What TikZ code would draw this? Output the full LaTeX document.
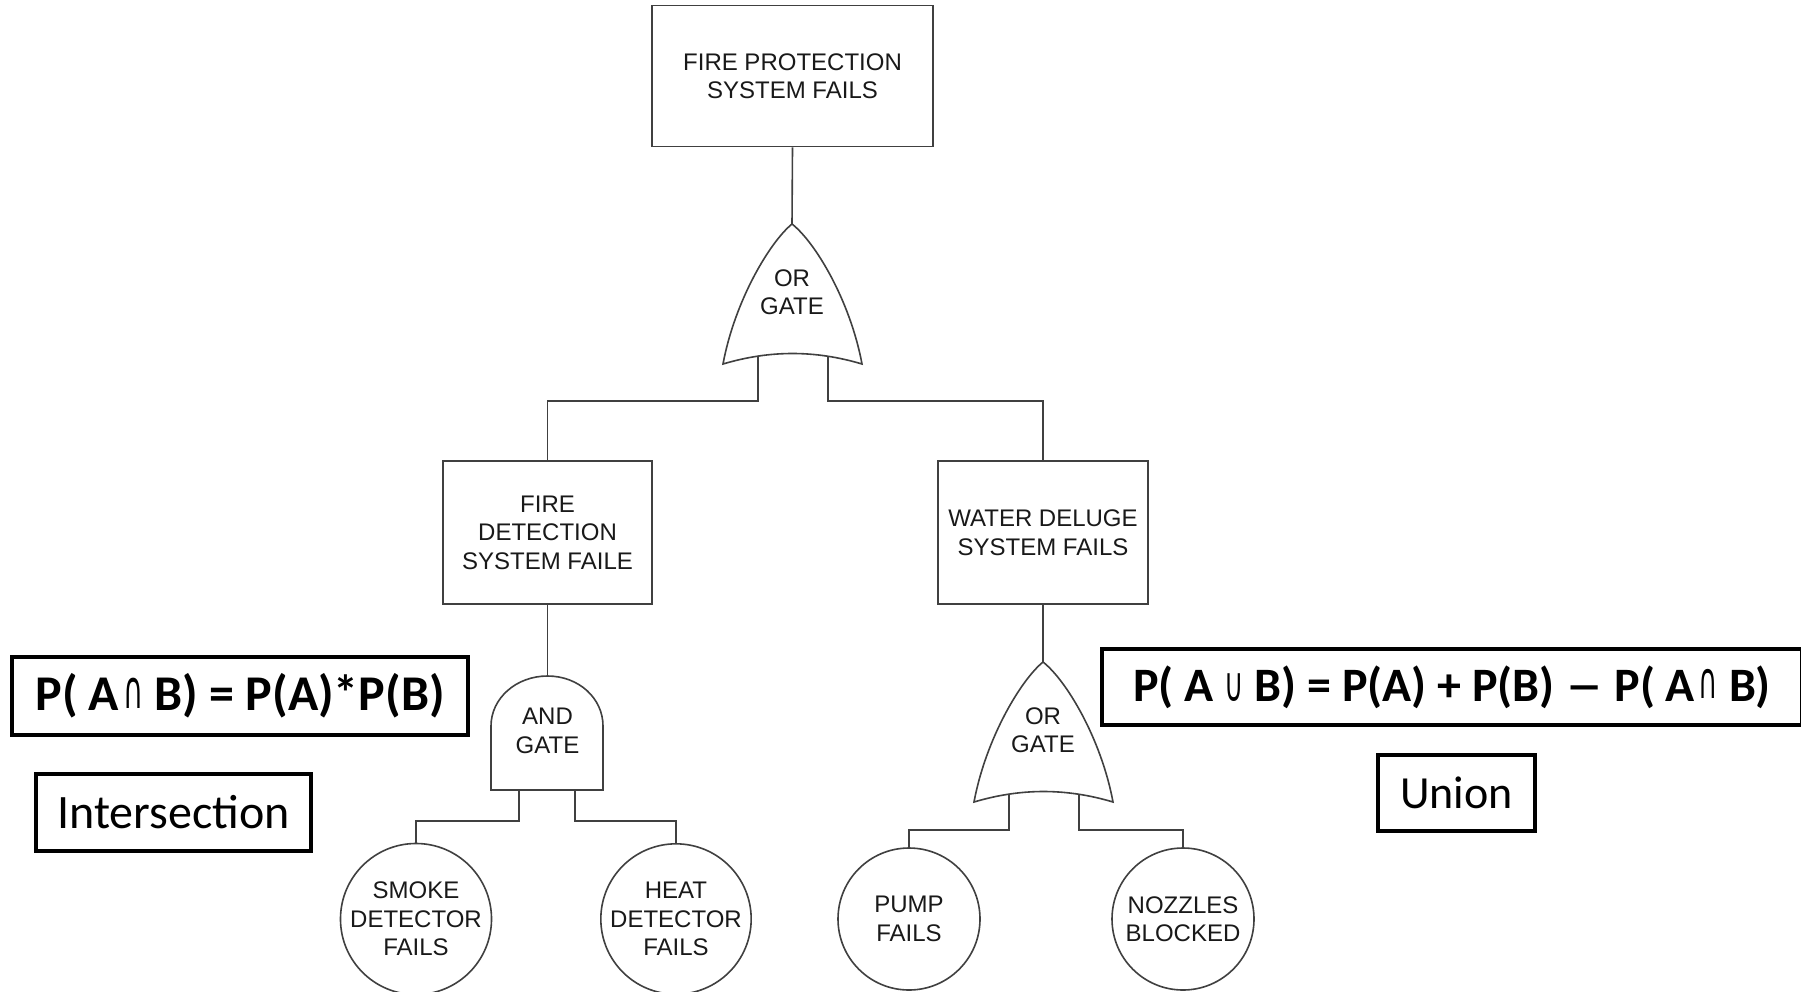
\documentclass[tikz,border=0pt]{standalone}
\usepackage{fontspec}
\setmainfont{Liberation Sans}
\newfontfamily\calfont{Carlito}
\newfontfamily\symfont{DejaVu Sans}
% set-operation signs, drawn thin and narrow beside the bold Carlito letters
\newcommand\capsym{\kern0.08em\raisebox{0.05em}{\scalebox{0.55}[1.05]{\symfont\mdseries ∩}}}
\newcommand\cupsym{\scalebox{0.55}[1.0]{\symfont\mdseries ∪}}
\newcommand\longdash{\scalebox{1.6}[1]{–}}
\tikzset{
  wire/.style={draw=black!75, line width=1.6pt},
  treetext/.style={align=center, text=black!90, font=\fontsize{24}{28.5}\selectfont},
  event/.style={wire, treetext, rectangle, inner sep=0pt},
  basic/.style={wire, treetext, circle, minimum size=142pt, inner sep=0pt},
  formula/.style={draw=black, line width=4pt, rectangle, inner sep=0pt, text=black},
}
\begin{document}
\begin{tikzpicture}[x=1pt, y=-1pt]
\useasboundingbox (0,0) rectangle (1801,991);
\fill[white] (0,0) rectangle (1801,991);

% top event and intermediate events
\node[event, minimum width=281pt, minimum height=141pt] (top) at (792.5,76)
  {FIRE PROTECTION\\SYSTEM FAILS};
\node[event, minimum width=209pt, minimum height=143pt] (fd) at (547.5,532.5)
  {FIRE\\DETECTION\\SYSTEM FAILE};
\node[event, minimum width=210pt, minimum height=143pt] (wd) at (1043,532.5)
  {WATER DELUGE\\SYSTEM FAILS};

% top OR gate
\draw[wire, fill=white] (792,224) .. controls (770,242) and (735,300) .. (723,364)
  .. controls (770,350) and (815,350) .. (862,364)
  .. controls (850,300) and (815,242) .. (792,224) -- cycle;
\node[treetext] (or1) at (792,292) {OR\\GATE};
\coordinate (or1a) at (792,224);
\coordinate (or1l) at (758,356);
\coordinate (or1r) at (828,356);

% AND gate under fire detection
\draw[wire, fill=white] (491,790) -- (491,726)
  .. controls (491,698.4) and (516.1,676) .. (547.5,676)
  .. controls (578.9,676) and (603,698.4) .. (603,726) -- (603,790) -- cycle;
\node[treetext] (and1) at (547.5,731) {AND\\GATE};
\coordinate (and1a) at (547.5,676);
\coordinate (and1l) at (519,790);
\coordinate (and1r) at (575,790);

% OR gate under water deluge
\begin{scope}[shift={(251,438)}]
\draw[wire, fill=white] (792,224) .. controls (770,242) and (735,300) .. (723,364)
  .. controls (770,350) and (815,350) .. (862,364)
  .. controls (850,300) and (815,242) .. (792,224) -- cycle;
\node[treetext] (or2) at (792,292) {OR\\GATE};
\coordinate (or2a) at (792,224);
\coordinate (or2l) at (758,356);
\coordinate (or2r) at (828,356);
\end{scope}

% basic events
\node[basic] (smoke) at (416,919) {SMOKE\\DETECTOR\\FAILS};
\node[basic] (heat) at (676,919) {HEAT\\DETECTOR\\FAILS};
\node[basic] (pump) at (909,919) {PUMP\\FAILS};
\node[basic] (nozzles) at (1183,919) {NOZZLES\\BLOCKED};

% connectors
\draw[wire] (top.south) -- (or1a);
\draw[wire] (or1l) -- ++(0,45) -| (fd.north);
\draw[wire] (or1r) -- ++(0,45) -| (wd.north);
\draw[wire] (fd.south) -- (and1a);
\draw[wire] (and1l) -- ++(0,31) -| (smoke.north);
\draw[wire] (and1r) -- ++(0,31) -| (heat.north);
\draw[wire] (wd.south) -- (or2a);
\draw[wire] (or2l) -- ++(0,36) -| (pump.north);
\draw[wire] (or2r) -- ++(0,36) -| (nozzles.north);

% probability notes
\node[formula, minimum width=456pt, minimum height=78pt,
  font=\calfont\bfseries\fontsize{50}{60}\selectfont] (andrule) at (240,696)
  {P( A\capsym\ B) = P(A)*P(B)};
\node[formula, minimum width=275pt, minimum height=77pt,
  font=\calfont\fontsize{48}{56}\selectfont] (inter) at (173.5,812.5)
  {Intersection};
\node[formula, minimum width=700pt, minimum height=76pt,
  font=\calfont\bfseries\fontsize{48}{56}\selectfont] (orrule) at (1452,687)
  {P( A \cupsym\ B) = P(A) + P(B) \longdash\ P( A\capsym\ B)};
\node[formula, minimum width=157pt, minimum height=76pt,
  font=\calfont\fontsize{46}{54}\selectfont] (union) at (1456.5,793)
  {Union};
\end{tikzpicture}
\end{document}
